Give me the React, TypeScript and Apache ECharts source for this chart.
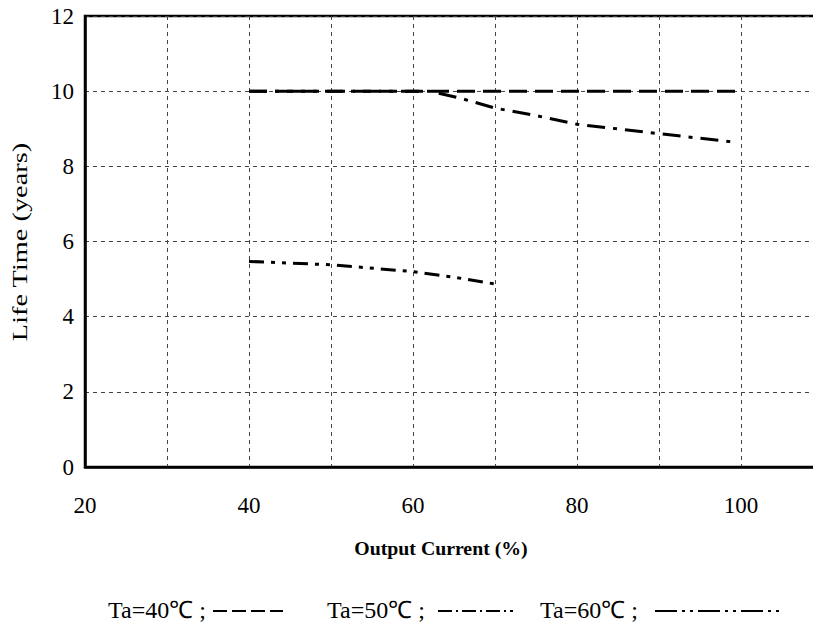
import React, { useEffect, useRef } from "react";
import * as echarts from "echarts";

const xTicks = [20, 40, 60, 80, 100];
const yTicks = [0, 2, 4, 6, 8, 10, 12];

const ta40X = [40, 50, 60, 70, 80, 90, 100];
const ta40Y = [10, 10, 10, 10, 10, 10, 10];

const ta50X = [40, 50, 60, 62, 66, 70, 75, 80, 90, 99];
const ta50Y = [10, 10, 10, 10, 9.8, 9.55, 9.35, 9.12, 8.87, 8.65];

const ta60X = [40, 50, 60, 65, 70];
const ta60Y = [5.47, 5.38, 5.2, 5.05, 4.87];

const legendLabels = ["Ta=40℃ ;", "Ta=50℃ ;", "Ta=60℃ ;"];

const FONT = "Liberation Serif";

export default function App() {
  const ref = useRef<HTMLDivElement>(null);
  useEffect(() => {
    if (!ref.current) return;
    const chart = echarts.init(ref.current, undefined, { renderer: "svg" });
    const pair = (xs: number[], ys: number[]) => xs.map((x, i) => [x, ys[i]]);
    const lineBase = { type: "line", showSymbol: false, symbol: "none" };
    const legendText = (text: string, x: number) => ({
      type: "text",
      x,
      y: 610,
      style: {
        text,
        fontFamily: FONT,
        fontSize: 24,
        fill: "#000",
        textAlign: "left",
        textVerticalAlign: "middle",
      },
    });
    const legendLine = (x1: number, x2: number, dash: number[]) => ({
      type: "line",
      shape: { x1, y1: 611, x2, y2: 611 },
      style: { stroke: "#000", lineWidth: 2, lineDash: dash },
    });
    chart.setOption({
      animation: false,
      backgroundColor: "#fff",
      textStyle: { fontFamily: FONT },
      grid: {
        left: 85,
        top: 16,
        bottom: 158,
        right: -10,
        outerBoundsMode: "none",
        containLabel: false,
        show: true,
        borderColor: "#000",
        borderWidth: 2.5,
      },
      xAxis: {
        type: "value",
        min: 20,
        max: 110,
        interval: 10,
        axisLine: { show: true, lineStyle: { color: "#000", width: 2.5 } },
        axisTick: { show: false },
        axisLabel: {
          margin: 27,
          fontFamily: FONT,
          fontSize: 23,
          color: "#000",
          formatter: (v: number) => (xTicks.includes(v) ? String(v) : ""),
        },
        splitLine: { show: true, lineStyle: { color: "#444", type: [4, 4], width: 1 } },
      },
      yAxis: {
        type: "value",
        min: 0,
        max: 12,
        interval: 2,
        axisLine: { show: true, lineStyle: { color: "#000", width: 2.5 } },
        axisTick: { show: false },
        axisLabel: {
          margin: 11,
          fontFamily: FONT,
          fontSize: 23,
          color: "#000",
          formatter: (v: number) => (yTicks.includes(v) ? String(v) : ""),
        },
        splitLine: { show: true, lineStyle: { color: "#444", type: [4, 4], width: 1 } },
      },
      series: [
        {
          ...lineBase,
          name: "Ta=40℃",
          data: pair(ta40X, ta40Y),
          lineStyle: { color: "#000", width: 3, type: [18, 8] },
        },
        {
          ...lineBase,
          name: "Ta=50℃",
          data: pair(ta50X, ta50Y),
          lineStyle: { color: "#000", width: 3, type: [18, 8, 4, 8] },
        },
        {
          ...lineBase,
          name: "Ta=60℃",
          data: pair(ta60X, ta60Y),
          lineStyle: { color: "#000", width: 3, type: [15, 7, 4, 7, 4, 7] },
        },
      ],
      graphic: [
        {
          type: "text",
          x: 20,
          y: 242,
          rotation: Math.PI / 2,
          scaleX: 1.35,
          style: {
            text: "Life Time (years)",
            fontFamily: FONT,
            fontSize: 21,
            fill: "#000",
            textAlign: "center",
            textVerticalAlign: "middle",
          },
        },
        {
          type: "text",
          x: 441,
          y: 549,
          scaleX: 1.1,
          style: {
            text: "Output Current (%)",
            fontFamily: FONT,
            fontSize: 18,
            fontWeight: "bold",
            fill: "#000",
            textAlign: "center",
            textVerticalAlign: "middle",
          },
        },
        legendText(legendLabels[0], 108),
        legendLine(213, 283, [14, 5]),
        legendText(legendLabels[1], 327),
        legendLine(438, 513, [14, 4, 2, 4]),
        legendText(legendLabels[2], 540),
        legendLine(655, 782, [22, 5, 3, 5, 3, 5]),
      ],
    });
    return () => chart.dispose();
  }, []);
  return (
    <div
      ref={ref}
      style={{ position: "fixed", left: 0, top: 0, width: 813, height: 625, background: "#fff" }}
    />
  );
}
